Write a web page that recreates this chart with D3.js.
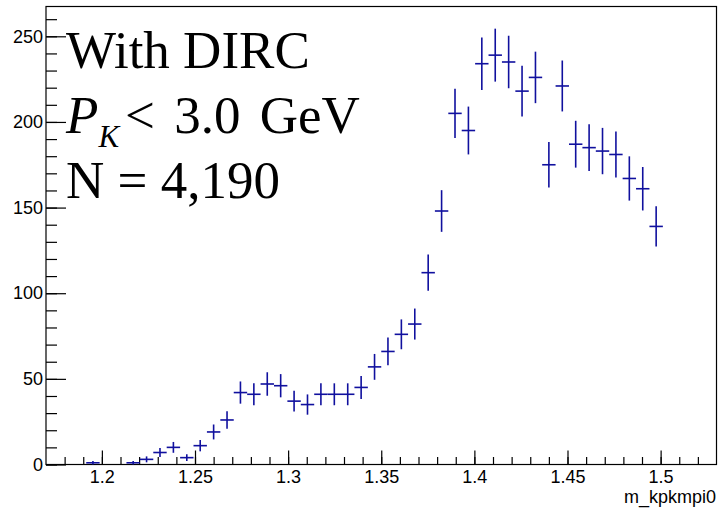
<!DOCTYPE html>
<html>
<head>
<meta charset="utf-8">
<script src="https://cdn.jsdelivr.net/npm/d3@7"></script>
<style>
  body { margin: 0; background: #fff; }
  svg { display: block; }
  .tick text { font-family: "Liberation Sans", Helvetica, Arial, sans-serif; font-size: 18px; fill: #000; }
</style>
</head>
<body>
<svg width="718" height="509"></svg>
<script>
// histogram m_kpkmpi0, 50 bins from 1.17 to 1.53
var xRange = [1.17, 1.53];
var counts = [
  0, 0, 0, 1, 0, 0, 1, 3, 7, 10,
  4, 11, 19, 26, 42, 41, 47, 46, 37, 35,
  41, 41, 41, 45, 57, 66, 76, 82, 112, 148,
  205, 195, 234, 239, 235, 218, 226, 175, 221, 187,
  185, 183, 181, 167, 161, 139, 0, 0, 0, 0
];
var yMax = 267.4;
var xMajor = [1.2, 1.25, 1.3, 1.35, 1.4, 1.45, 1.5];
var xLabels = ["1.2", "1.25", "1.3", "1.35", "1.4", "1.45", "1.5"];
var yMajor = [0, 50, 100, 150, 200, 250];
var xTitle = "m_kpkmpi0";

var margin = {left: 46, right: 1.5, top: 6.5, bottom: 44.5};
var W = 718, H = 509;
var w = W - margin.left - margin.right, h = H - margin.top - margin.bottom;

var svg = d3.select('svg');
var g = svg.append('g').attr('transform', 'translate(' + margin.left + ',' + margin.top + ')');

var x = d3.scaleLinear().domain(xRange).range([0, w]);
var y = d3.scaleLinear().domain([0, yMax]).range([h, 0]);

var nb = counts.length;
var bw = (xRange[1] - xRange[0]) / nb;
var bins = counts.map(function(c, i){
  return {lo: xRange[0] + i*bw, hi: xRange[0] + (i+1)*bw, c: c, e: Math.sqrt(c)};
}).filter(function(d){ return d.c > 0; });

// minor ticks
var xMinor = d3.range(118, 153).map(function(v){ return v/100; });
var yMinor = d3.range(0, 261, 10);

g.append('g').attr('transform', 'translate(0,' + h + ')')
  .call(d3.axisBottom(x).tickValues(xMinor).tickSize(-7.5).tickSizeOuter(0).tickFormat(''))
  .call(function(s){ s.select('.domain').remove(); });
g.append('g').attr('transform', 'translate(0,' + h + ')')
  .call(d3.axisBottom(x).tickValues(xMajor).tickSize(-14).tickSizeOuter(0).tickPadding(6)
    .tickFormat(function(d, i){ return xLabels[i]; }))
  .call(function(s){ s.select('.domain').remove(); });

g.append('g')
  .call(d3.axisLeft(y).tickValues(yMinor).tickSize(-11).tickSizeOuter(0).tickFormat(''))
  .call(function(s){ s.select('.domain').remove(); });
g.append('g')
  .call(d3.axisLeft(y).tickValues(yMajor).tickSize(-20).tickSizeOuter(0).tickPadding(3))
  .call(function(s){ s.select('.domain').remove(); });

g.selectAll('.tick line').attr('stroke', '#000').attr('stroke-width', 1.2);

// frame
g.append('rect').attr('x', 0).attr('y', 0).attr('width', w).attr('height', h)
  .attr('fill', 'none').attr('stroke', '#000').attr('stroke-width', 1.2);

// error bars
var col = '#10109e';
var eb = g.append('g').attr('stroke', col).attr('stroke-width', 1.6).attr('fill', 'none');
eb.selectAll('line.h').data(bins).enter().append('line').attr('class', 'h')
  .attr('x1', function(d){ return x(d.lo); }).attr('x2', function(d){ return x(d.hi); })
  .attr('y1', function(d){ return y(d.c); }).attr('y2', function(d){ return y(d.c); });
eb.selectAll('line.v').data(bins).enter().append('line').attr('class', 'v')
  .attr('x1', function(d){ return x((d.lo + d.hi)/2); }).attr('x2', function(d){ return x((d.lo + d.hi)/2); })
  .attr('y1', function(d){ return y(Math.max(0, d.c - d.e)); }).attr('y2', function(d){ return y(d.c + d.e); });

// axis title
svg.append('text').attr('x', 716).attr('y', 503).attr('text-anchor', 'end')
  .style('font-family', '"Liberation Sans", Helvetica, Arial, sans-serif').style('font-size', '18px')
  .text(xTitle);

// big labels
var serif = '"Liberation Serif", "Times New Roman", Times, serif';
svg.append('text').attr('x', 66).attr('y', 68).style('font-family', serif).style('font-size', '53px')
  .text('With DIRC');
var t2 = svg.append('text').attr('x', 66).attr('y', 133).style('font-family', serif).style('font-size', '53px');
t2.append('tspan').style('font-style', 'italic').text('P');
t2.append('tspan').style('font-style', 'italic').style('font-size', '31px').attr('dy', 14).text('K');
t2.append('tspan').attr('x', 125).attr('dy', -14).style('word-spacing', '6px').text('< 3.0 GeV');
svg.append('text').attr('x', 66).attr('y', 198).style('font-family', serif).style('font-size', '53px')
  .text('N = 4,190');
</script>
</body>
</html>
